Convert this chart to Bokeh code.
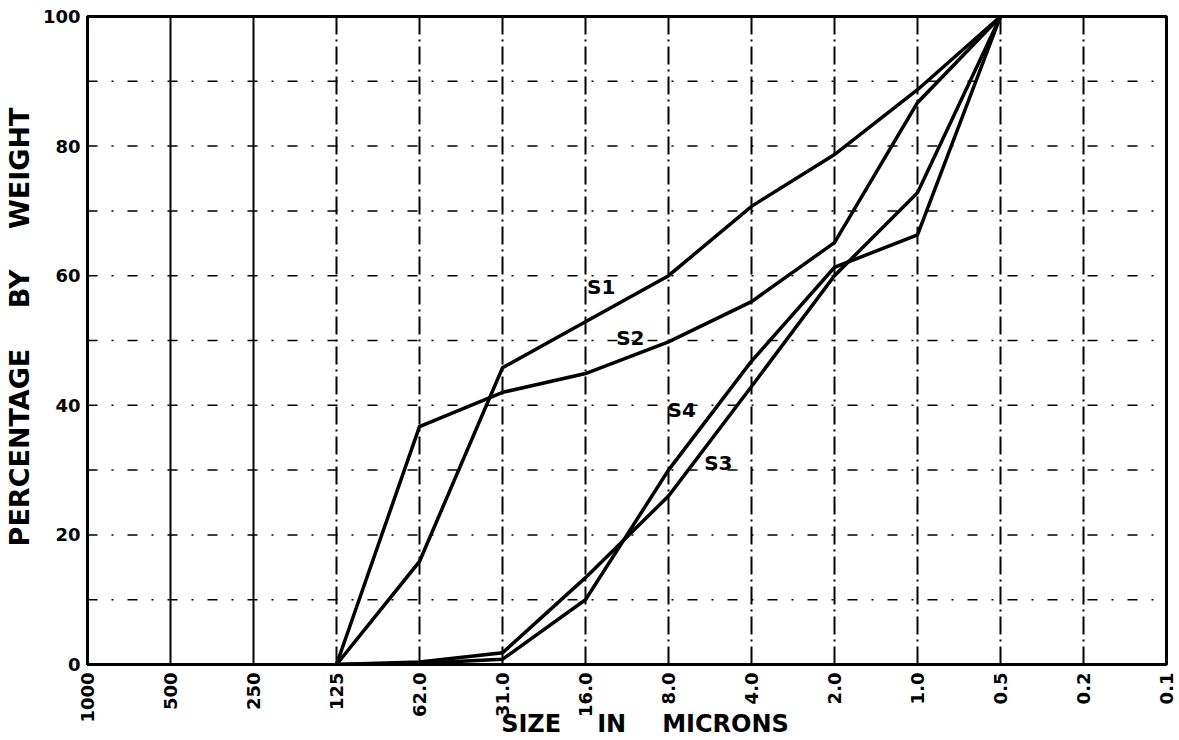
import math
from bokeh.plotting import figure
from bokeh.models import Range1d, FixedTicker, Span, Label
from bokeh.embed import file_html
from bokeh.resources import INLINE

# ---- data ----
size_labels = ["1000", "500", "250", "125", "62.0", "31.0", "16.0", "8.0",
               "4.0", "2.0", "1.0", "0.5", "0.2", "0.1"]
# series measured at sizes 125 ... 0.5 microns
series_sizes = ["125", "62.0", "31.0", "16.0", "8.0", "4.0", "2.0", "1.0", "0.5"]
s1 = [0, 15.9, 45.8, 52.9, 60.0, 70.7, 78.7, 88.7, 100]
s2 = [0, 36.7, 42.0, 44.9, 49.8, 56.0, 65.1, 86.7, 100]
s3 = [0, 0.4, 1.8, 13.4, 26.0, 42.9, 60.0, 72.8, 100]
s4 = [0, 0.2, 0.8, 10.0, 30.0, 46.8, 61.3, 66.3, 100]
series_names = ["S1", "S2", "S3", "S4"]
label_x = [6.19, 6.54, 7.60, 7.16]
label_y = [58.3, 50.4, 31.1, 39.3]
y_ticks = [0, 20, 40, 60, 80, 100]
y_grid = [10, 20, 30, 40, 50, 60, 70, 80, 90]
x_title = "\u2003\u2002SIZE\u2003\u2002IN\u2003\u2002MICRONS"
y_title = "\u2003PERCENTAGE\u2003\u2002BY\u2003\u2002WEIGHT"

FONT = "DejaVu Sans"

p = figure(width=1179, height=740, output_backend="svg", toolbar_location=None,
           x_range=Range1d(0, len(size_labels) - 1), y_range=Range1d(0, 100),
           min_border_left=80, min_border_right=13, min_border_top=16, min_border_bottom=75)

p.xgrid.visible = False
p.ygrid.visible = False
p.outline_line_color = "black"
p.outline_line_width = 3

# grid lines (dash-dot, drawn from tick positions)
for i in range(1, len(size_labels) - 1):
    dash = "solid" if size_labels[i] in ("500", "250") else "18 5 2 5"
    p.add_layout(Span(location=i, dimension="height", line_color="black",
                      line_width=2, line_dash=dash))
for yv in y_grid:
    p.add_layout(Span(location=yv, dimension="width", line_color="black",
                      line_width=1.5, line_dash="10 14 2 14"))

idx = {lab: i for i, lab in enumerate(size_labels)}
xs = [idx[s] for s in series_sizes]
for ys in (s1, s2, s3, s4):
    p.line(xs, ys, line_color="black", line_width=3.5, line_join="miter")

for name, lx, ly in zip(series_names, label_x, label_y):
    p.add_layout(Label(x=lx, y=ly, text=name, text_font=FONT, text_font_style="bold",
                       text_font_size="20px", text_align="center",
                       text_baseline="middle", text_color="black"))

# axes
p.xaxis.ticker = FixedTicker(ticks=list(range(len(size_labels))))
p.xaxis.major_label_overrides = {i: lab for i, lab in enumerate(size_labels)}
p.xaxis.major_label_orientation = math.pi / 2
p.yaxis.ticker = FixedTicker(ticks=y_ticks)

for ax in (p.xaxis[0], p.yaxis[0]):
    ax.axis_line_color = "black"
    ax.axis_line_width = 3
    ax.major_tick_in = 0
    ax.major_tick_out = 0
    ax.minor_tick_in = 0
    ax.minor_tick_out = 0
    ax.major_label_text_font = FONT
    ax.major_label_text_font_style = "bold"
    ax.major_label_text_color = "black"
    ax.axis_label_text_font = FONT
    ax.axis_label_text_font_style = "bold"
    ax.axis_label_text_color = "black"

p.xaxis.major_label_text_font_size = "18px"
p.yaxis.major_label_text_font_size = "18px"
p.xaxis.major_label_standoff = 8
p.yaxis.major_label_standoff = 7

p.xaxis.axis_label = x_title
p.xaxis.axis_label_text_font_size = "24px"
p.xaxis.axis_label_standoff = -16
p.yaxis.axis_label = y_title
p.yaxis.axis_label_text_font_size = "27px"
p.yaxis.axis_label_standoff = 5

open("out.html", "w").write(file_html(p, INLINE))
